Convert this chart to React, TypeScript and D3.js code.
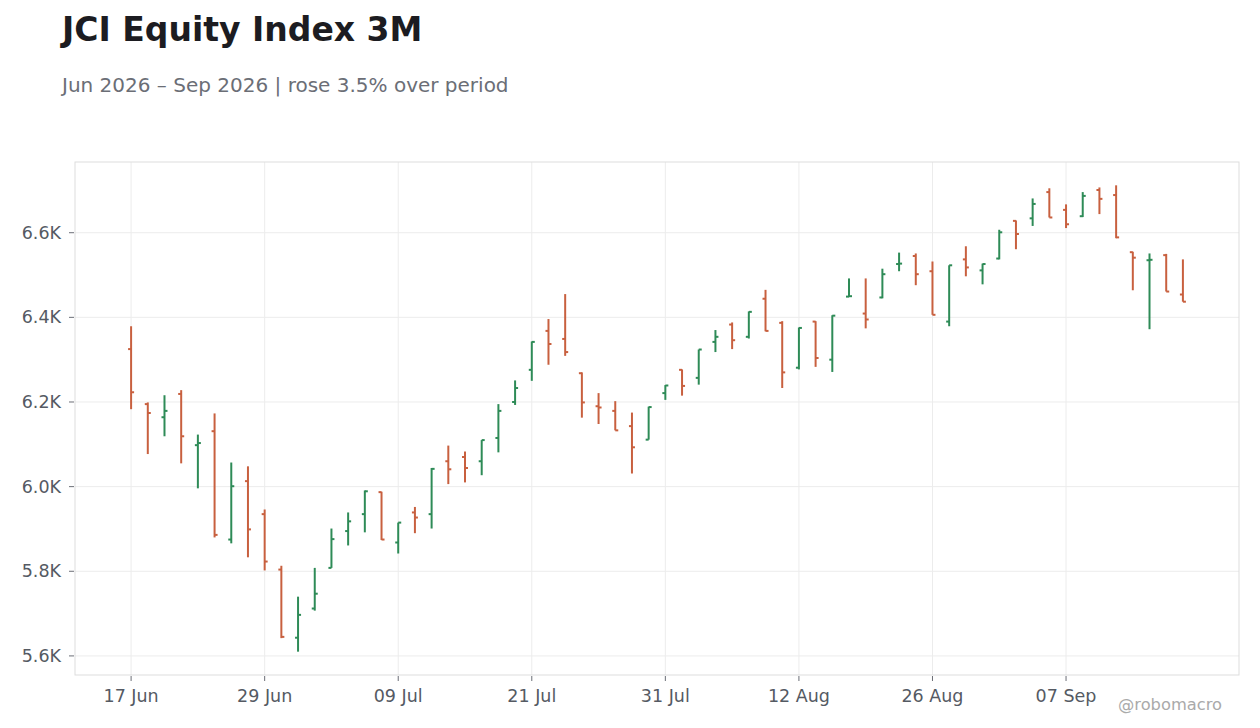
import React, { useEffect, useRef } from 'react';
import * as d3 from 'd3';

// trading days shown on the chart
const dates = [
    '2026-06-17', '2026-06-18', '2026-06-19', '2026-06-22', '2026-06-23', '2026-06-24', '2026-06-25', '2026-06-26',
    '2026-06-29', '2026-06-30', '2026-07-01', '2026-07-02', '2026-07-03', '2026-07-06', '2026-07-07', '2026-07-08',
    '2026-07-09', '2026-07-10', '2026-07-13', '2026-07-14', '2026-07-15', '2026-07-16', '2026-07-17', '2026-07-20',
    '2026-07-21', '2026-07-22', '2026-07-23', '2026-07-24', '2026-07-27', '2026-07-28', '2026-07-29', '2026-07-30',
    '2026-07-31', '2026-08-03', '2026-08-04', '2026-08-05', '2026-08-06', '2026-08-07', '2026-08-10', '2026-08-11',
    '2026-08-12', '2026-08-13', '2026-08-14', '2026-08-18', '2026-08-19', '2026-08-20', '2026-08-24', '2026-08-25',
    '2026-08-26', '2026-08-27', '2026-08-28', '2026-08-31', '2026-09-01', '2026-09-02', '2026-09-03', '2026-09-04',
    '2026-09-07', '2026-09-08', '2026-09-09', '2026-09-10', '2026-09-11', '2026-09-14', '2026-09-15', '2026-09-16',
];

const opens = [
    6325, 6195, 6164, 6219, 6098, 6131, 5875, 6013, 5935, 5804, 5643, 5712, 5808, 5895, 5935, 5987,
    5868, 5939, 5935, 6060, 6070, 6060, 6115, 6200, 6276, 6368, 6349, 6268, 6190, 6179, 6143, 6111,
    6221, 6276, 6257, 6342, 6383, 6354, 6444, 6387, 6281, 6390, 6300, 6449, 6409, 6447, 6526, 6545,
    6509, 6390, 6537, 6511, 6539, 6628, 6634, 6696, 6654, 6639, 6701, 6689, 6554, 6535, 6547, 6454,
];
const highs = [
    6379, 6199, 6216, 6228, 6123, 6173, 6057, 6048, 5946, 5813, 5740, 5808, 5901, 5939, 5991, 5988,
    5915, 5952, 6044, 6097, 6083, 6110, 6195, 6251, 6343, 6396, 6455, 6270, 6221, 6202, 6175, 6189,
    6240, 6277, 6324, 6370, 6388, 6414, 6465, 6391, 6376, 6391, 6405, 6492, 6492, 6515, 6553, 6551,
    6532, 6523, 6568, 6527, 6607, 6629, 6681, 6705, 6667, 6696, 6707, 6712, 6555, 6551, 6550, 6537,
];
const lows = [
    6183, 6077, 6119, 6055, 5996, 5880, 5866, 5833, 5802, 5642, 5610, 5707, 5808, 5861, 5892, 5874,
    5842, 5890, 5901, 6006, 6010, 6027, 6081, 6193, 6250, 6288, 6309, 6163, 6148, 6133, 6031, 6111,
    6205, 6215, 6241, 6318, 6325, 6350, 6367, 6233, 6277, 6283, 6271, 6448, 6374, 6445, 6509, 6476,
    6406, 6379, 6497, 6478, 6537, 6561, 6616, 6636, 6611, 6637, 6644, 6587, 6464, 6372, 6461, 6437,
];
const closes = [
    6223, 6174, 6179, 6119, 6103, 5886, 6001, 5899, 5823, 5645, 5697, 5747, 5876, 5918, 5989, 5875,
    5915, 5927, 6042, 6041, 6044, 6110, 6179, 6233, 6342, 6337, 6318, 6199, 6187, 6133, 6093, 6188,
    6239, 6238, 6324, 6354, 6346, 6413, 6368, 6270, 6375, 6304, 6404, 6450, 6395, 6502, 6527, 6502,
    6406, 6523, 6518, 6526, 6601, 6597, 6668, 6636, 6620, 6687, 6680, 6589, 6541, 6536, 6461, 6437,
];

const yTicks = [5600, 5800, 6000, 6200, 6400, 6600];

const UP = '#2e8b57';
const DOWN = '#c8603f';
const FONT = '"DejaVu Sans", sans-serif';

const App: React.FC = () => {
    const svgRef = useRef<SVGSVGElement | null>(null);

    useEffect(() => {
        const width = 1260;
        const height = 728;
        const plot = { left: 75, right: 1239, top: 162, bottom: 675 };

        const svg = d3.select(svgRef.current);
        svg.selectAll('*').remove();
        svg.attr('width', width).attr('height', height);

        svg.append('rect').attr('width', width).attr('height', height).attr('fill', '#ffffff');

        const xScale = d3.scalePoint<string>()
            .domain(dates)
            .range([plot.left, plot.right])
            .padding(3.36);

        // 5% headroom around the price range
        const lo = d3.min(lows)!;
        const hi = d3.max(highs)!;
        const pad = (hi - lo) * 0.05;
        const yScale = d3.scaleLinear()
            .domain([lo - pad, hi + pad])
            .range([plot.bottom, plot.top]);

        const fmtDate = d3.timeFormat('%d %b');
        const parse = d3.timeParse('%Y-%m-%d');
        const xTicks = dates.filter((_, i) => i % 8 === 0);

        // grid
        const grid = svg.append('g');
        grid.selectAll('line.h')
            .data(yTicks)
            .join('line')
            .attr('x1', plot.left).attr('x2', plot.right)
            .attr('y1', d => yScale(d)).attr('y2', d => yScale(d))
            .attr('stroke', '#ececec').attr('stroke-width', 1);
        grid.selectAll('line.v')
            .data(xTicks)
            .join('line')
            .attr('x1', d => xScale(d)!).attr('x2', d => xScale(d)!)
            .attr('y1', plot.top).attr('y2', plot.bottom)
            .attr('stroke', '#ececec').attr('stroke-width', 1);

        svg.append('rect')
            .attr('x', plot.left).attr('y', plot.top)
            .attr('width', plot.right - plot.left).attr('height', plot.bottom - plot.top)
            .attr('fill', 'none').attr('stroke', '#dddddd').attr('stroke-width', 1);

        // y axis
        const yAxis = svg.append('g');
        yAxis.selectAll('line')
            .data(yTicks)
            .join('line')
            .attr('x1', plot.left - 6).attr('x2', plot.left - 1)
            .attr('y1', d => yScale(d)).attr('y2', d => yScale(d))
            .attr('stroke', '#6b6e76').attr('stroke-width', 1);
        yAxis.selectAll('text')
            .data(yTicks)
            .join('text')
            .attr('x', plot.left - 14)
            .attr('y', d => yScale(d))
            .attr('dy', '0.35em')
            .attr('text-anchor', 'end')
            .attr('font-family', FONT).attr('font-size', 17.5)
            .attr('fill', '#555a63')
            .text(d => (d / 1000).toFixed(1) + 'K');

        // x axis
        const xAxis = svg.append('g');
        xAxis.selectAll('line')
            .data(xTicks)
            .join('line')
            .attr('x1', d => xScale(d)!).attr('x2', d => xScale(d)!)
            .attr('y1', plot.bottom + 1).attr('y2', plot.bottom + 6)
            .attr('stroke', '#6b6e76').attr('stroke-width', 1);
        xAxis.selectAll('text')
            .data(xTicks)
            .join('text')
            .attr('x', d => xScale(d)!)
            .attr('y', 702)
            .attr('text-anchor', 'middle')
            .attr('font-family', FONT).attr('font-size', 17.5)
            .attr('fill', '#555a63')
            .text(d => fmtDate(parse(d)!));

        // OHLC bars
        const tick = 3;
        const bars = svg.append('g');
        dates.forEach((d, i) => {
            const x = xScale(d)!;
            const color = closes[i] >= opens[i] ? UP : DOWN;
            const g = bars.append('g').attr('stroke', color).attr('stroke-width', 2);
            g.append('line')
                .attr('x1', x).attr('x2', x)
                .attr('y1', yScale(highs[i])).attr('y2', yScale(lows[i]));
            g.append('line')
                .attr('x1', x - tick).attr('x2', x)
                .attr('y1', yScale(opens[i])).attr('y2', yScale(opens[i]));
            g.append('line')
                .attr('x1', x).attr('x2', x + tick)
                .attr('y1', yScale(closes[i])).attr('y2', yScale(closes[i]));
        });

        // titles
        svg.append('text')
            .attr('x', 62).attr('y', 41)
            .attr('font-family', FONT).attr('font-size', 33).attr('font-weight', 'bold')
            .attr('fill', '#1c1c21')
            .text('JCI Equity Index 3M');
        svg.append('text')
            .attr('x', 62).attr('y', 92)
            .attr('font-family', FONT).attr('font-size', 20)
            .attr('fill', '#6b6e76')
            .text('Jun 2026 \u2013 Sep 2026 | rose 3.5% over period');

        svg.append('text')
            .attr('x', 1222).attr('y', 710)
            .attr('text-anchor', 'end')
            .attr('font-family', FONT).attr('font-size', 16.3)
            .attr('fill', '#aaaaaa')
            .text('@robomacro');
    }, []);

    return (
        <svg ref={svgRef} style={{ display: 'block', position: 'absolute', left: 0, top: 0 }} />
    );
};

export default App;
